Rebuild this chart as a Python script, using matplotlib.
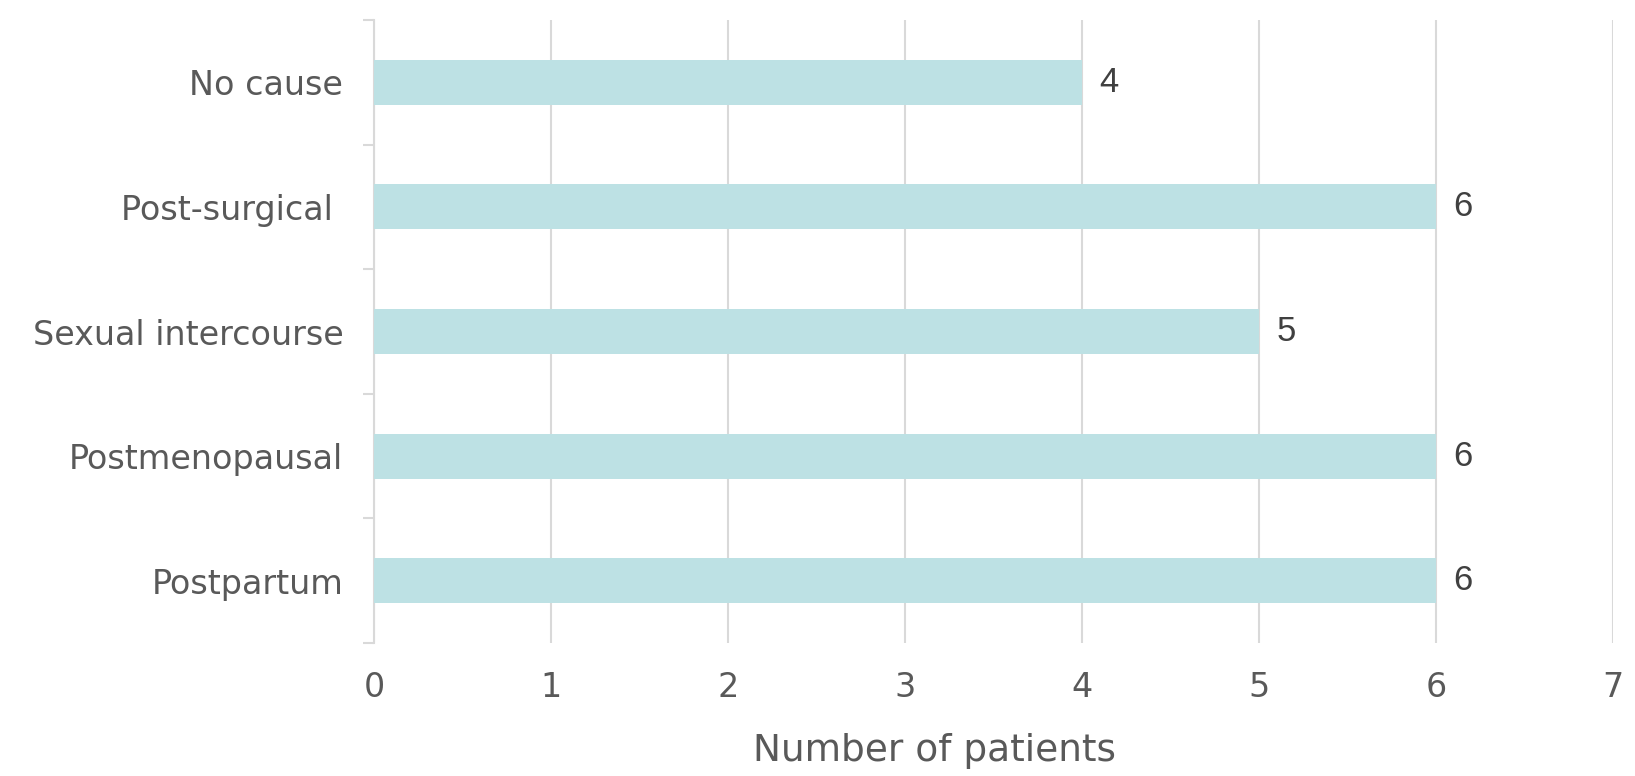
import numpy as np
import matplotlib.pyplot as plt

causes = ['Postpartum', 'Postmenopausal', 'Sexual intercourse', 'Post-surgical ', 'No cause']
patients = [6, 6, 5, 6, 4]

bar_color = '#bde1e4'
grid_color = '#d9d9d9'
text_color = '#595959'

fig = plt.figure(figsize=(16.35, 7.76), dpi=100)
ax = fig.add_axes([0.2287, 0.1714, 0.7578, 0.8028])

y = np.arange(len(causes))
ax.barh(y, patients, height=0.36, color=bar_color, zorder=3)

for yi, v in zip(y, patients):
    ax.text(v + 0.1, yi, str(v), va='center', ha='left', fontsize=25,
            color='#404040', family='Liberation Sans')

ax.set_xlim(0, 7)
ax.set_ylim(-0.5, len(causes) - 0.5)
ax.set_xticks(range(8))
ax.set_xticklabels([str(i) for i in range(8)], fontsize=24, color=text_color)
ax.tick_params(axis='x', length=0, pad=20)
ax.grid(axis='x', color=grid_color, linewidth=1.5, zorder=0)

# category labels sit between the boundary ticks
ax.set_yticks(np.arange(-0.5, len(causes), 1.0))
ax.set_yticklabels([])
ax.set_yticks(y, minor=True)
ax.set_yticklabels(causes, minor=True, fontsize=24, color=text_color)
ax.tick_params(axis='y', which='major', length=8, width=1.5, color=grid_color)
ax.tick_params(axis='y', which='minor', length=0, pad=22)

for s in ['top', 'right', 'bottom']:
    ax.spines[s].set_visible(False)
ax.spines['left'].set_color(grid_color)
ax.spines['left'].set_linewidth(1.5)

ax.set_xlabel('Number of patients', fontsize=27, color=text_color)
ax.xaxis.set_label_coords(0.4525, -0.144)

plt.savefig('out.png', dpi=100)
